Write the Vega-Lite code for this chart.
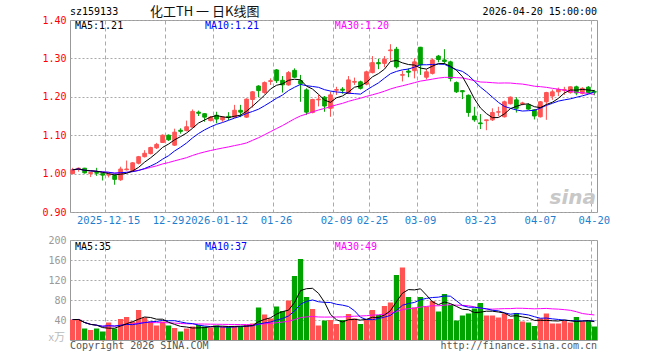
{
  "$schema": "https://vega.github.io/schema/vega-lite/v6.json",
  "autosize": {"type": "none"},
  "padding": {"left": 70, "top": 20, "right": 63, "bottom": 340},
  "background": "white",
  "spacing": 28,
  "bounds": "flush",
  "config": {
    "view": {"stroke": "#999999", "strokeWidth": 1},
    "axis": {"domain": false, "ticks": false, "labelFont": "DejaVu Sans Mono", "labelFontSize": 10, "gridWidth": 1, "labelOverlap": false, "labelBound": false},
    "text": {"font": "DejaVu Sans Mono", "fontSize": 10}
  },
  "data": {"values": [
    {"d":"2025-12-05","o":1.000,"h":1.015,"l":0.998,"c":1.010,"v":41},
    {"d":"2025-12-08","o":1.013,"h":1.016,"l":1.005,"c":1.014,"v":41},
    {"d":"2025-12-09","o":1.014,"h":1.015,"l":1.000,"c":1.002,"v":23},
    {"d":"2025-12-10","o":1.000,"h":1.004,"l":0.991,"c":1.003,"v":20},
    {"d":"2025-12-11","o":1.003,"h":1.015,"l":0.994,"c":1.001,"v":23},
    {"d":"2025-12-12","o":1.000,"h":1.001,"l":0.982,"c":0.996,"v":17},
    {"d":"2025-12-15","o":0.996,"h":1.000,"l":0.990,"c":0.998,"v":35},
    {"d":"2025-12-16","o":0.995,"h":0.998,"l":0.971,"c":0.985,"v":23},
    {"d":"2025-12-17","o":0.984,"h":1.018,"l":0.981,"c":1.012,"v":42},
    {"d":"2025-12-18","o":1.010,"h":1.034,"l":1.008,"c":1.012,"v":46},
    {"d":"2025-12-19","o":1.008,"h":1.030,"l":1.006,"c":1.028,"v":37},
    {"d":"2025-12-22","o":1.027,"h":1.046,"l":1.024,"c":1.044,"v":60},
    {"d":"2025-12-23","o":1.044,"h":1.061,"l":1.042,"c":1.053,"v":45},
    {"d":"2025-12-24","o":1.052,"h":1.070,"l":1.050,"c":1.068,"v":37},
    {"d":"2025-12-25","o":1.067,"h":1.080,"l":1.064,"c":1.076,"v":29},
    {"d":"2025-12-26","o":1.081,"h":1.102,"l":1.080,"c":1.100,"v":37},
    {"d":"2025-12-29","o":1.100,"h":1.102,"l":1.085,"c":1.088,"v":29},
    {"d":"2025-12-30","o":1.074,"h":1.117,"l":1.072,"c":1.108,"v":24},
    {"d":"2025-12-31","o":1.113,"h":1.118,"l":1.104,"c":1.110,"v":17},
    {"d":"2026-01-05","o":1.112,"h":1.138,"l":1.110,"c":1.122,"v":23},
    {"d":"2026-01-06","o":1.121,"h":1.167,"l":1.120,"c":1.162,"v":27},
    {"d":"2026-01-07","o":1.160,"h":1.164,"l":1.150,"c":1.157,"v":30},
    {"d":"2026-01-08","o":1.156,"h":1.157,"l":1.135,"c":1.147,"v":27},
    {"d":"2026-01-09","o":1.138,"h":1.150,"l":1.136,"c":1.147,"v":25},
    {"d":"2026-01-12","o":1.152,"h":1.161,"l":1.131,"c":1.142,"v":29},
    {"d":"2026-01-13","o":1.140,"h":1.150,"l":1.135,"c":1.147,"v":27},
    {"d":"2026-01-14","o":1.149,"h":1.160,"l":1.139,"c":1.146,"v":27},
    {"d":"2026-01-15","o":1.147,"h":1.179,"l":1.145,"c":1.165,"v":28},
    {"d":"2026-01-16","o":1.165,"h":1.179,"l":1.147,"c":1.160,"v":27},
    {"d":"2026-01-19","o":1.147,"h":1.196,"l":1.145,"c":1.194,"v":30},
    {"d":"2026-01-20","o":1.193,"h":1.215,"l":1.172,"c":1.213,"v":33},
    {"d":"2026-01-21","o":1.228,"h":1.230,"l":1.199,"c":1.216,"v":65},
    {"d":"2026-01-22","o":1.211,"h":1.240,"l":1.208,"c":1.237,"v":51},
    {"d":"2026-01-23","o":1.240,"h":1.248,"l":1.231,"c":1.242,"v":43},
    {"d":"2026-01-26","o":1.270,"h":1.272,"l":1.236,"c":1.242,"v":67},
    {"d":"2026-01-27","o":1.243,"h":1.254,"l":1.211,"c":1.231,"v":58},
    {"d":"2026-01-28","o":1.231,"h":1.267,"l":1.229,"c":1.263,"v":79},
    {"d":"2026-01-29","o":1.269,"h":1.274,"l":1.249,"c":1.251,"v":128},
    {"d":"2026-01-30","o":1.242,"h":1.257,"l":1.187,"c":1.234,"v":162},
    {"d":"2026-02-02","o":1.218,"h":1.222,"l":1.153,"c":1.160,"v":86},
    {"d":"2026-02-03","o":1.159,"h":1.195,"l":1.157,"c":1.193,"v":62},
    {"d":"2026-02-04","o":1.192,"h":1.205,"l":1.175,"c":1.194,"v":29},
    {"d":"2026-02-05","o":1.199,"h":1.202,"l":1.161,"c":1.176,"v":39},
    {"d":"2026-02-06","o":1.170,"h":1.213,"l":1.148,"c":1.205,"v":40},
    {"d":"2026-02-09","o":1.217,"h":1.226,"l":1.205,"c":1.219,"v":32},
    {"d":"2026-02-10","o":1.220,"h":1.225,"l":1.208,"c":1.217,"v":40},
    {"d":"2026-02-11","o":1.209,"h":1.254,"l":1.207,"c":1.244,"v":52},
    {"d":"2026-02-12","o":1.238,"h":1.250,"l":1.231,"c":1.240,"v":43},
    {"d":"2026-02-13","o":1.239,"h":1.242,"l":1.219,"c":1.222,"v":32},
    {"d":"2026-02-24","o":1.233,"h":1.268,"l":1.230,"c":1.265,"v":40},
    {"d":"2026-02-25","o":1.263,"h":1.306,"l":1.261,"c":1.289,"v":60},
    {"d":"2026-02-26","o":1.289,"h":1.299,"l":1.272,"c":1.286,"v":50},
    {"d":"2026-02-27","o":1.287,"h":1.306,"l":1.277,"c":1.298,"v":68},
    {"d":"2026-03-02","o":1.320,"h":1.337,"l":1.294,"c":1.322,"v":75},
    {"d":"2026-03-03","o":1.324,"h":1.330,"l":1.274,"c":1.278,"v":130},
    {"d":"2026-03-04","o":1.256,"h":1.268,"l":1.240,"c":1.258,"v":145},
    {"d":"2026-03-05","o":1.267,"h":1.274,"l":1.251,"c":1.264,"v":86},
    {"d":"2026-03-06","o":1.268,"h":1.300,"l":1.248,"c":1.291,"v":65},
    {"d":"2026-03-09","o":1.329,"h":1.330,"l":1.257,"c":1.283,"v":86},
    {"d":"2026-03-10","o":1.251,"h":1.272,"l":1.245,"c":1.265,"v":67},
    {"d":"2026-03-11","o":1.261,"h":1.300,"l":1.258,"c":1.296,"v":78},
    {"d":"2026-03-12","o":1.306,"h":1.309,"l":1.290,"c":1.297,"v":57},
    {"d":"2026-03-13","o":1.296,"h":1.324,"l":1.286,"c":1.292,"v":92},
    {"d":"2026-03-16","o":1.291,"h":1.294,"l":1.240,"c":1.248,"v":70},
    {"d":"2026-03-17","o":1.237,"h":1.240,"l":1.210,"c":1.213,"v":39},
    {"d":"2026-03-18","o":1.216,"h":1.217,"l":1.194,"c":1.213,"v":49},
    {"d":"2026-03-19","o":1.204,"h":1.206,"l":1.148,"c":1.159,"v":53},
    {"d":"2026-03-20","o":1.150,"h":1.174,"l":1.135,"c":1.140,"v":63},
    {"d":"2026-03-23","o":1.132,"h":1.155,"l":1.116,"c":1.130,"v":74},
    {"d":"2026-03-24","o":1.138,"h":1.140,"l":1.113,"c":1.140,"v":49},
    {"d":"2026-03-25","o":1.140,"h":1.170,"l":1.137,"c":1.159,"v":49},
    {"d":"2026-03-26","o":1.160,"h":1.174,"l":1.149,"c":1.161,"v":45},
    {"d":"2026-03-27","o":1.148,"h":1.190,"l":1.146,"c":1.187,"v":53},
    {"d":"2026-03-30","o":1.182,"h":1.201,"l":1.180,"c":1.199,"v":42},
    {"d":"2026-03-31","o":1.192,"h":1.199,"l":1.159,"c":1.170,"v":54},
    {"d":"2026-04-01","o":1.182,"h":1.187,"l":1.178,"c":1.184,"v":37},
    {"d":"2026-04-02","o":1.179,"h":1.183,"l":1.166,"c":1.168,"v":35},
    {"d":"2026-04-03","o":1.166,"h":1.168,"l":1.141,"c":1.150,"v":28},
    {"d":"2026-04-07","o":1.148,"h":1.189,"l":1.146,"c":1.187,"v":43},
    {"d":"2026-04-08","o":1.187,"h":1.213,"l":1.140,"c":1.211,"v":53},
    {"d":"2026-04-09","o":1.202,"h":1.219,"l":1.192,"c":1.213,"v":33},
    {"d":"2026-04-10","o":1.213,"h":1.224,"l":1.202,"c":1.219,"v":33},
    {"d":"2026-04-13","o":1.217,"h":1.226,"l":1.205,"c":1.219,"v":38},
    {"d":"2026-04-14","o":1.211,"h":1.227,"l":1.208,"c":1.226,"v":35},
    {"d":"2026-04-15","o":1.226,"h":1.229,"l":1.204,"c":1.210,"v":46},
    {"d":"2026-04-16","o":1.209,"h":1.225,"l":1.206,"c":1.222,"v":37},
    {"d":"2026-04-17","o":1.225,"h":1.228,"l":1.208,"c":1.211,"v":38},
    {"d":"2026-04-20","o":1.214,"h":1.218,"l":1.204,"c":1.212,"v":27}
  ]},
  "vconcat": [
    {
      "width": 527,
      "height": 192,
      "layer": [
        {
          "mark": {"type": "rule", "strokeWidth": 1},
          "encoding": {
            "x": {"field": "d", "type": "ordinal", "title": null,
              "scale": {"paddingInner": 0.12, "paddingOuter": 0},
              "axis": {"values": ["2025-12-15","2025-12-29","2026-01-12","2026-01-26","2026-02-09","2026-02-25","2026-03-09","2026-03-23","2026-04-07","2026-04-20"],
                "bandPosition": 0, "labelAngle": 0, "labelColor": "#1e7fd0", "labelFontSize": 10.5, "labelPadding": 3, "labelOverlap": false,
                "labelExpr": "indexof(['2025-12-15','2026-01-12'], datum.value) >= 0 ? datum.value : slice(datum.value, 5)",
                "grid": true, "gridDash": [4, 3], "gridColor": "#aaaaaa"}},
            "y": {"field": "l", "type": "quantitative", "title": null,
              "scale": {"domain": [0.9, 1.4], "zero": false, "nice": false},
              "axis": {"values": [0.9, 1.0, 1.1, 1.2, 1.3, 1.4], "tickCount": 6, "format": ".2f", "labelColor": "#ff0000", "labelPadding": 4, "labelOverlap": false,
                "grid": true, "gridDash": [2, 2], "gridColor": "#aaaaaa"}},
            "y2": {"field": "h"},
            "color": {"condition": {"test": "datum.c >= datum.o", "value": "#ff5353"}, "value": "#00a300"}
          }
        },
        {
          "mark": {"type": "bar", "width": {"band": 0.7}, "strokeWidth": 1},
          "encoding": {
            "x": {"field": "d", "type": "ordinal", "title": null},
            "y": {"field": "o", "type": "quantitative", "title": null},
            "y2": {"field": "c"},
            "color": {"condition": {"test": "datum.c >= datum.o", "value": "#ff5353"}, "value": "#00a300"},
            "stroke": {"condition": {"test": "datum.c >= datum.o", "value": "#ff5353"}, "value": "#00a300"}
          }
        },
        {
          "transform": [{"window": [{"op": "mean", "field": "c", "as": "m30"}], "frame": [-29, 0], "sort": [{"field": "d"}]}],
          "mark": {"type": "line", "color": "#ff00ff", "strokeWidth": 1},
          "encoding": {
            "x": {"field": "d", "type": "ordinal", "title": null},
            "y": {"field": "m30", "type": "quantitative", "title": null}
          }
        },
        {
          "transform": [{"window": [{"op": "mean", "field": "c", "as": "m10"}], "frame": [-9, 0], "sort": [{"field": "d"}]}],
          "mark": {"type": "line", "color": "#0000ff", "strokeWidth": 1},
          "encoding": {
            "x": {"field": "d", "type": "ordinal", "title": null},
            "y": {"field": "m10", "type": "quantitative", "title": null}
          }
        },
        {
          "transform": [{"window": [{"op": "mean", "field": "c", "as": "m5"}], "frame": [-4, 0], "sort": [{"field": "d"}]}],
          "mark": {"type": "line", "color": "#000000", "strokeWidth": 1},
          "encoding": {
            "x": {"field": "d", "type": "ordinal", "title": null},
            "y": {"field": "m5", "type": "quantitative", "title": null}
          }
        },
        {
          "data": {"values": [{}]},
          "mark": {"type": "text", "align": "left", "baseline": "middle", "dy": -8, "text": "sz159133", "color": "#000000"},
          "encoding": {
            "x": {"datum": "2025-12-05", "type": "ordinal", "bandPosition": 0, "title": null},
            "y": {"datum": 1.4, "type": "quantitative", "title": null}
          }
        },
        {
          "data": {"values": [{}]},
          "mark": {"type": "text", "align": "left", "baseline": "middle", "dy": -8, "dx": 2, "text": "化工TH 一 日K线图", "font": "Noto Sans CJK SC", "fontSize": 13, "color": "#111111"},
          "encoding": {
            "x": {"datum": "2025-12-24", "type": "ordinal", "bandPosition": 0, "title": null},
            "y": {"datum": 1.4, "type": "quantitative", "title": null}
          }
        },
        {
          "data": {"values": [{}]},
          "mark": {"type": "text", "align": "right", "baseline": "middle", "dy": -8, "text": "2026-04-20 15:00:00", "color": "#000000"},
          "encoding": {
            "x": {"datum": "2026-04-20", "type": "ordinal", "bandPosition": 1, "title": null},
            "y": {"datum": 1.4, "type": "quantitative", "title": null}
          }
        },
        {
          "data": {"values": [{}]},
          "mark": {"type": "text", "align": "left", "baseline": "middle", "dy": 6, "dx": 5, "text": "MA5:1.21", "color": "#000000"},
          "encoding": {
            "x": {"datum": "2025-12-05", "type": "ordinal", "bandPosition": 0, "title": null},
            "y": {"datum": 1.4, "type": "quantitative", "title": null}
          }
        },
        {
          "data": {"values": [{}]},
          "mark": {"type": "text", "align": "left", "baseline": "middle", "dy": 6, "dx": 3, "text": "MA10:1.21", "color": "#0000ff"},
          "encoding": {
            "x": {"datum": "2026-01-08", "type": "ordinal", "bandPosition": 0, "title": null},
            "y": {"datum": 1.4, "type": "quantitative", "title": null}
          }
        },
        {
          "data": {"values": [{}]},
          "mark": {"type": "text", "align": "left", "baseline": "middle", "dy": 6, "dx": 1, "text": "MA30:1.20", "color": "#ff00ff"},
          "encoding": {
            "x": {"datum": "2026-02-09", "type": "ordinal", "bandPosition": 0, "title": null},
            "y": {"datum": 1.4, "type": "quantitative", "title": null}
          }
        },
        {
          "data": {"values": [{}]},
          "mark": {"type": "text", "align": "right", "baseline": "alphabetic", "dy": -8, "dx": -1, "text": "sina", "font": "DejaVu Sans", "fontSize": 20, "fontStyle": "italic", "fontWeight": "bold", "color": "#c8c8c8"},
          "encoding": {
            "x": {"datum": "2026-04-20", "type": "ordinal", "bandPosition": 1, "title": null},
            "y": {"datum": 0.9, "type": "quantitative", "title": null}
          }
        }
      ]
    },
    {
      "width": 527,
      "height": 100,
      "layer": [
        {
          "mark": {"type": "bar"},
          "encoding": {
            "x": {"field": "d", "type": "ordinal", "title": null,
              "scale": {"paddingInner": 0.12, "paddingOuter": 0},
              "axis": {"values": ["2025-12-15","2025-12-29","2026-01-12","2026-01-26","2026-02-09","2026-02-25","2026-03-09","2026-03-23","2026-04-07","2026-04-20"],
                "bandPosition": 0, "labels": false, "grid": true, "gridDash": [4, 3], "gridColor": "#aaaaaa"}},
            "y": {"field": "v", "type": "quantitative", "title": null,
              "scale": {"domain": [0, 200], "nice": false},
              "axis": {"values": [40, 80, 120, 160, 200], "tickCount": 5, "format": "d", "labelColor": "#999999", "labelPadding": 4, "labelOverlap": false,
                "grid": true, "gridDash": [2, 2], "gridColor": "#aaaaaa"}},
            "color": {"condition": {"test": "datum.c >= datum.o", "value": "#ff5353"}, "value": "#00a300"}
          }
        },
        {
          "transform": [{"window": [{"op": "mean", "field": "v", "as": "m30"}], "frame": [-29, 0], "sort": [{"field": "d"}]}],
          "mark": {"type": "line", "color": "#ff00ff", "strokeWidth": 1},
          "encoding": {
            "x": {"field": "d", "type": "ordinal", "title": null},
            "y": {"field": "m30", "type": "quantitative", "title": null}
          }
        },
        {
          "transform": [{"window": [{"op": "mean", "field": "v", "as": "m10"}], "frame": [-9, 0], "sort": [{"field": "d"}]}],
          "mark": {"type": "line", "color": "#0000ff", "strokeWidth": 1},
          "encoding": {
            "x": {"field": "d", "type": "ordinal", "title": null},
            "y": {"field": "m10", "type": "quantitative", "title": null}
          }
        },
        {
          "transform": [{"window": [{"op": "mean", "field": "v", "as": "m5"}], "frame": [-4, 0], "sort": [{"field": "d"}]}],
          "mark": {"type": "line", "color": "#000000", "strokeWidth": 1},
          "encoding": {
            "x": {"field": "d", "type": "ordinal", "title": null},
            "y": {"field": "m5", "type": "quantitative", "title": null}
          }
        },
        {
          "data": {"values": [{}]},
          "mark": {"type": "text", "align": "left", "baseline": "middle", "dy": 7, "dx": 5, "text": "MA5:35", "color": "#000000"},
          "encoding": {
            "x": {"datum": "2025-12-05", "type": "ordinal", "bandPosition": 0, "title": null},
            "y": {"datum": 200, "type": "quantitative", "title": null}
          }
        },
        {
          "data": {"values": [{}]},
          "mark": {"type": "text", "align": "left", "baseline": "middle", "dy": 7, "dx": 3, "text": "MA10:37", "color": "#0000ff"},
          "encoding": {
            "x": {"datum": "2026-01-08", "type": "ordinal", "bandPosition": 0, "title": null},
            "y": {"datum": 200, "type": "quantitative", "title": null}
          }
        },
        {
          "data": {"values": [{}]},
          "mark": {"type": "text", "align": "left", "baseline": "middle", "dy": 7, "dx": 1, "text": "MA30:49", "color": "#ff00ff"},
          "encoding": {
            "x": {"datum": "2026-02-09", "type": "ordinal", "bandPosition": 0, "title": null},
            "y": {"datum": 200, "type": "quantitative", "title": null}
          }
        },
        {
          "data": {"values": [{}]},
          "mark": {"type": "text", "align": "left", "baseline": "middle", "dy": 6, "text": "Copyright 2026 SINA.COM", "color": "#555555"},
          "encoding": {
            "x": {"datum": "2025-12-05", "type": "ordinal", "bandPosition": 0, "title": null},
            "y": {"datum": 0, "type": "quantitative", "title": null}
          }
        },
        {
          "data": {"values": [{}]},
          "mark": {"type": "text", "align": "right", "baseline": "middle", "dy": 6, "text": "http://finance.sina.com.cn", "color": "#555555"},
          "encoding": {
            "x": {"datum": "2026-04-20", "type": "ordinal", "bandPosition": 1, "title": null},
            "y": {"datum": 0, "type": "quantitative", "title": null}
          }
        },
        {
          "data": {"values": [{}]},
          "mark": {"type": "text", "align": "right", "baseline": "middle", "dy": -2, "dx": -5, "text": "x万", "font": "Noto Sans CJK SC", "fontSize": 11, "color": "#bbbbbb"},
          "encoding": {
            "x": {"datum": "2025-12-05", "type": "ordinal", "bandPosition": 0, "title": null},
            "y": {"datum": 0, "type": "quantitative", "title": null}
          }
        }
      ]
    }
  ]
}
